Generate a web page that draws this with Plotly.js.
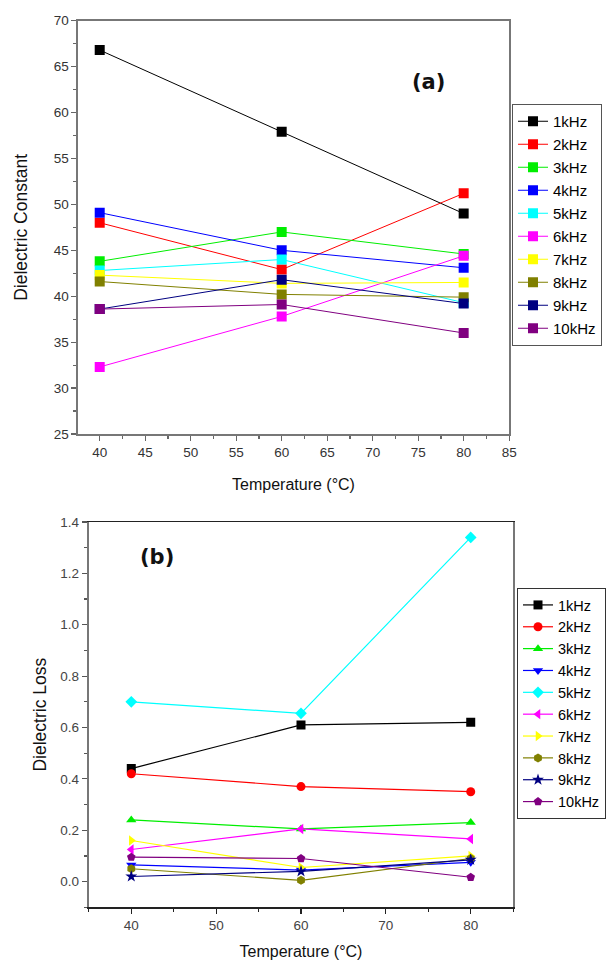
<!DOCTYPE html>
<html>
<head>
<meta charset="utf-8">
<script src="https://cdn.plot.ly/plotly-3.0.1.min.js"></script>
<style>html,body{margin:0;padding:0;background:#fff;}#chart{width:606px;height:961px;}</style>
</head>
<body>
<div id="chart"></div>
<script>
// ---------- data ----------
const temps = [40, 60, 80];
const seriesNames = ['1kHz','2kHz','3kHz','4kHz','5kHz','6kHz','7kHz','8kHz','9kHz','10kHz'];
const seriesColors = ['#000000','#ff0000','#00ee00','#0000ff','#00ffff','#ff00ff','#ffff00','#808000','#000080','#800080'];
const lossSymbols = ['square','circle','triangle-up','triangle-down','diamond','triangle-left','triangle-right','hexagon','star','pentagon'];

// (a) Dielectric constant
const dc1k  = [66.8, 57.9, 49.0];
const dc2k  = [48.0, 42.9, 51.2];
const dc3k  = [43.8, 47.0, 44.6];
const dc4k  = [49.1, 45.0, 43.1];
const dc5k  = [42.8, 44.0, 39.3];
const dc6k  = [32.3, 37.8, 44.4];
const dc7k  = [42.3, 41.4, 41.5];
const dc8k  = [41.6, 40.2, 39.9];
const dc9k  = [38.6, 41.8, 39.2];
const dc10k = [38.6, 39.1, 36.0];
const dcSeries = [dc1k, dc2k, dc3k, dc4k, dc5k, dc6k, dc7k, dc8k, dc9k, dc10k];

// (b) Dielectric loss
const dl1k  = [0.44, 0.61, 0.62];
const dl2k  = [0.42, 0.37, 0.35];
const dl3k  = [0.24, 0.205, 0.23];
const dl4k  = [0.065, 0.045, 0.075];
const dl5k  = [0.70, 0.655, 1.34];
const dl6k  = [0.125, 0.205, 0.166];
const dl7k  = [0.16, 0.055, 0.10];
const dl8k  = [0.05, 0.005, 0.09];
const dl9k  = [0.02, 0.04, 0.085];
const dl10k = [0.095, 0.09, 0.017];
const dlSeries = [dl1k, dl2k, dl3k, dl4k, dl5k, dl6k, dl7k, dl8k, dl9k, dl10k];

const xTicksA = [40,45,50,55,60,65,70,75,80,85];
const xTicksB = [40,50,60,70,80];
const yTicksA = [25,30,35,40,45,50,55,60,65,70];
const yTicksB = [0.0,0.2,0.4,0.6,0.8,1.0,1.2,1.4];
const yTickTextB = ['0.0','0.2','0.4','0.6','0.8','1.0','1.2','1.4'];

// ---------- traces ----------
const FONT = 'Liberation Sans, Arial, sans-serif';
const traces = [];
seriesNames.forEach((n, i) => {
  traces.push({
    x: temps, y: dcSeries[i], name: n, type: 'scatter', mode: 'lines+markers',
    xaxis: 'x', yaxis: 'y', legend: 'legend', legendgroup: 'a' + i,
    line: {color: seriesColors[i], width: 1},
    marker: {symbol: 'square', size: 10, color: seriesColors[i]}
  });
});
seriesNames.forEach((n, i) => {
  traces.push({
    x: temps, y: dlSeries[i], name: n, type: 'scatter', mode: 'lines+markers',
    xaxis: 'x2', yaxis: 'y2', legend: 'legend2', legendgroup: 'b' + i,
    line: {color: seriesColors[i], width: 1.2},
    marker: {symbol: lossSymbols[i], size: 9, color: seriesColors[i]}
  });
});

const W = 606, H = 961;
const px = v => v / W;
const py = v => (H - v) / H;

const tickFont = {family: FONT, size: 13.5, color: '#333'};
const xTitleFont = {family: FONT, size: 16, color: '#111'};
const yTitleFont = {family: FONT, size: 17.5, color: '#111'};

const layout = {
  width: W, height: H,
  margin: {l: 0, r: 0, t: 0, b: 0},
  paper_bgcolor: '#fff', plot_bgcolor: '#fff',
  font: {family: FONT},
  showlegend: true,
  xaxis: {
    domain: [px(78), px(510)], anchor: 'y', range: [37.6, 85],
    tickvals: xTicksA, ticktext: xTicksA.map(String),
    ticks: 'outside', ticklen: 5, tickcolor: '#666', tickwidth: 1.2,
    minor: {tickvals: [42.5,47.5,52.5,57.5,62.5,67.5,72.5,77.5,82.5], ticks: 'outside', ticklen: 3, tickcolor: '#666', tickwidth: 1.2},
    showline: true, linecolor: '#777', linewidth: 1.5, mirror: true,
    showgrid: false, zeroline: false, tickfont: tickFont,
    title: {text: 'Temperature (\u00B0C)', font: xTitleFont, standoff: 20}
  },
  yaxis: {
    domain: [py(434), py(20.7)], anchor: 'x', range: [25, 70],
    tickvals: yTicksA, ticktext: yTicksA.map(String),
    ticks: 'outside', ticklen: 5, tickcolor: '#666', tickwidth: 1.2,
    minor: {dtick: 2.5, ticks: 'outside', ticklen: 3, tickcolor: '#666', tickwidth: 1.2},
    showline: true, linecolor: '#777', linewidth: 1.5, mirror: true,
    showgrid: false, zeroline: false, tickfont: tickFont,
    title: {text: 'Dielectric Constant', font: yTitleFont, standoff: 21}
  },
  xaxis2: {
    domain: [px(89), px(514)], anchor: 'y2', range: [35, 85],
    tickvals: xTicksB, ticktext: xTicksB.map(String),
    ticks: 'outside', ticklen: 5, tickcolor: '#222', tickwidth: 1.2,
    minor: {tickvals: [35,45,55,65,75,85], ticks: 'outside', ticklen: 3, tickcolor: '#222', tickwidth: 1.2},
    showline: true, linecolor: '#222', linewidth: 1.2, mirror: true,
    showgrid: false, zeroline: false, tickfont: {family: FONT, size: 13.5, color: '#444'},
    title: {text: 'Temperature (\u00B0C)', font: xTitleFont, standoff: 14}
  },
  yaxis2: {
    domain: [py(907.3), py(522)], anchor: 'x2', range: [-0.1, 1.4],
    tickvals: yTicksB, ticktext: yTickTextB,
    ticks: 'outside', ticklen: 5, tickcolor: '#555', tickwidth: 1.2,
    minor: {tickvals: [-0.1,0.1,0.3,0.5,0.7,0.9,1.1,1.3], ticks: 'outside', ticklen: 3, tickcolor: '#555', tickwidth: 1.2},
    showline: true, linecolor: '#777', linewidth: 2, mirror: true,
    showgrid: false, zeroline: false, tickfont: {family: FONT, size: 13.5, color: '#444'},
    title: {text: 'Dielectric Loss', font: yTitleFont, standoff: 9}
  },
  legend: {
    x: px(512), y: py(104), xanchor: 'left', yanchor: 'top',
    bordercolor: '#555', borderwidth: 1, bgcolor: '#fff',
    font: {family: FONT, size: 15, color: '#000'},
    tracegroupgap: 0.5, itemwidth: 30
  },
  legend2: {
    x: px(518), y: py(588), xanchor: 'left', yanchor: 'top',
    bordercolor: '#333', borderwidth: 1, bgcolor: '#fff',
    font: {family: FONT, size: 14.5, color: '#000'},
    tracegroupgap: 0, itemwidth: 30
  },
  annotations: [
    {text: '<b>(a)</b>', x: px(448), y: py(68), xref: 'paper', yref: 'paper', showarrow: false,
     font: {family: 'DejaVu Sans, sans-serif', size: 21, color: '#111'}},
    {text: '<b>(b)</b>', x: px(138), y: py(557), xref: 'paper', yref: 'paper', showarrow: false,
     font: {family: 'DejaVu Sans, sans-serif', size: 21, color: '#111'}}
  ]
};

Plotly.newPlot('chart', traces, layout, {displayModeBar: false, staticPlot: true});
</script>
</body>
</html>
